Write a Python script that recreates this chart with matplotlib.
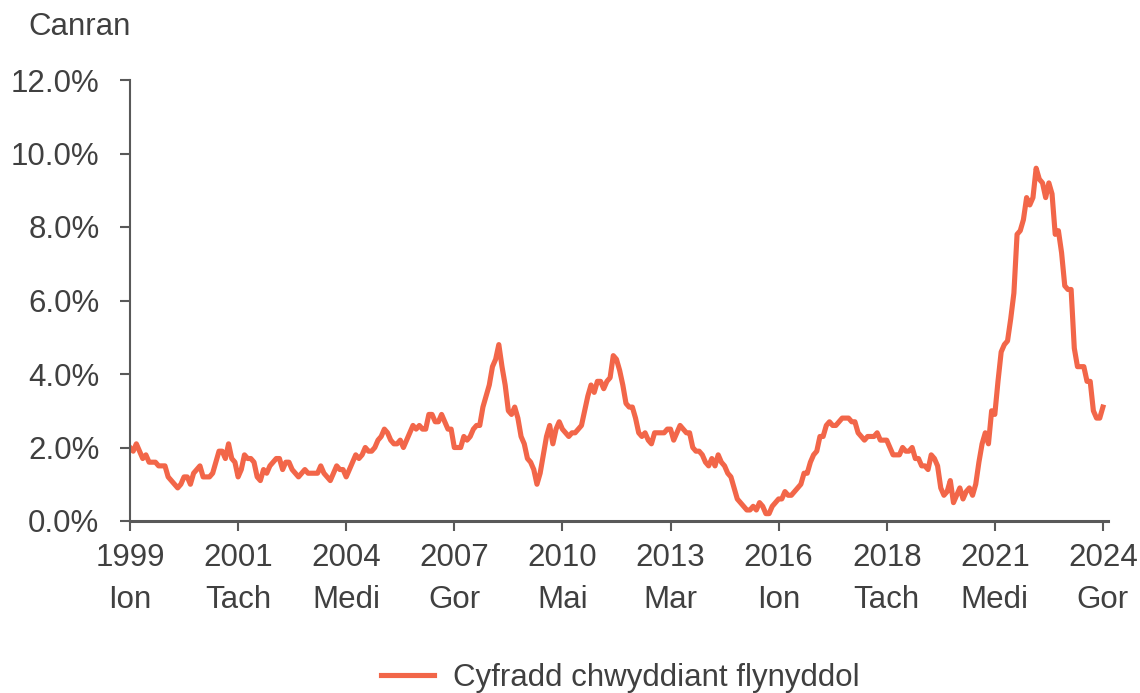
import matplotlib.pyplot as plt
import numpy as np

# cyfradd flynyddol (%), misol, Ion 1999 - Gor 2024
y1999 = [2.0, 1.9, 2.1, 1.9, 1.7, 1.8, 1.6, 1.6, 1.6, 1.5, 1.5, 1.5]
y2000 = [1.2, 1.1, 1.0, 0.9, 1.0, 1.2, 1.2, 1.0, 1.3, 1.4, 1.5, 1.2]
y2001 = [1.2, 1.2, 1.3, 1.6, 1.9, 1.9, 1.7, 2.1, 1.7, 1.6, 1.2, 1.4]
y2002 = [1.8, 1.7, 1.7, 1.6, 1.2, 1.1, 1.4, 1.3, 1.5, 1.6, 1.7, 1.7]
y2003 = [1.4, 1.6, 1.6, 1.4, 1.3, 1.2, 1.3, 1.4, 1.3, 1.3, 1.3, 1.3]
y2004 = [1.5, 1.3, 1.2, 1.1, 1.3, 1.5, 1.4, 1.4, 1.2, 1.4, 1.6, 1.8]
y2005 = [1.7, 1.8, 2.0, 1.9, 1.9, 2.0, 2.2, 2.3, 2.5, 2.4, 2.2, 2.1]
y2006 = [2.1, 2.2, 2.0, 2.2, 2.4, 2.6, 2.5, 2.6, 2.5, 2.5, 2.9, 2.9]
y2007 = [2.7, 2.7, 2.9, 2.7, 2.5, 2.5, 2.0, 2.0, 2.0, 2.3, 2.2, 2.3]
y2008 = [2.5, 2.6, 2.6, 3.1, 3.4, 3.7, 4.2, 4.4, 4.8, 4.2, 3.7, 3.0]
y2009 = [2.9, 3.1, 2.8, 2.3, 2.1, 1.7, 1.6, 1.4, 1.0, 1.3, 1.8, 2.3]
y2010 = [2.6, 2.1, 2.5, 2.7, 2.5, 2.4, 2.3, 2.4, 2.4, 2.5, 2.6, 3.0]
y2011 = [3.4, 3.7, 3.5, 3.8, 3.8, 3.6, 3.8, 3.9, 4.5, 4.4, 4.1, 3.7]
y2012 = [3.2, 3.1, 3.1, 2.8, 2.4, 2.3, 2.4, 2.2, 2.1, 2.4, 2.4, 2.4]
y2013 = [2.4, 2.5, 2.5, 2.2, 2.4, 2.6, 2.5, 2.4, 2.4, 2.0, 1.9, 1.9]
y2014 = [1.8, 1.6, 1.5, 1.7, 1.5, 1.8, 1.6, 1.5, 1.3, 1.2, 0.9, 0.6]
y2015 = [0.5, 0.4, 0.3, 0.3, 0.4, 0.3, 0.5, 0.4, 0.2, 0.2, 0.4, 0.5]
y2016 = [0.6, 0.6, 0.8, 0.7, 0.7, 0.8, 0.9, 1.0, 1.3, 1.3, 1.6, 1.8]
y2017 = [1.9, 2.3, 2.3, 2.6, 2.7, 2.6, 2.6, 2.7, 2.8, 2.8, 2.8, 2.7]
y2018 = [2.7, 2.4, 2.3, 2.2, 2.3, 2.3, 2.3, 2.4, 2.2, 2.2, 2.2, 2.0]
y2019 = [1.8, 1.8, 1.8, 2.0, 1.9, 1.9, 2.0, 1.7, 1.7, 1.5, 1.5, 1.4]
y2020 = [1.8, 1.7, 1.5, 0.9, 0.7, 0.8, 1.1, 0.5, 0.7, 0.9, 0.6, 0.8]
y2021 = [0.9, 0.7, 1.0, 1.6, 2.1, 2.4, 2.1, 3.0, 2.9, 3.8, 4.6, 4.8]
y2022 = [4.9, 5.5, 6.2, 7.8, 7.9, 8.2, 8.8, 8.6, 8.8, 9.6, 9.3, 9.2]
y2023 = [8.8, 9.2, 8.9, 7.8, 7.9, 7.3, 6.4, 6.3, 6.3, 4.7, 4.2, 4.2]
y2024 = [4.2, 3.8, 3.8, 3.0, 2.8, 2.8, 3.1]

values = np.array(y1999 + y2000 + y2001 + y2002 + y2003 + y2004 + y2005 + y2006 +
                  y2007 + y2008 + y2009 + y2010 + y2011 + y2012 + y2013 + y2014 +
                  y2015 + y2016 + y2017 + y2018 + y2019 + y2020 + y2021 + y2022 +
                  y2023 + y2024)
months = np.arange(len(values))

tick_labels = ["1999\nIon", "2001\nTach", "2004\nMedi", "2007\nGor", "2010\nMai",
               "2013\nMar", "2016\nIon", "2018\nTach", "2021\nMedi", "2024\nGor"]
yticks = [0, 2, 4, 6, 8, 10, 12]

plt.rcParams['font.family'] = ['Liberation Sans', 'DejaVu Sans']
grey = "#595959"
txt = "#404040"

fig = plt.figure(figsize=(11.4, 6.93), dpi=100)
ax = fig.add_axes([130 / 1140, 1 - 521 / 693, 978 / 1140, 441 / 693])

ax.plot(months, values, color="#F26649", lw=3.7, solid_joinstyle="round",
        label="Cyfradd chwyddiant flynyddol")

ax.set_xlim(0, 307.6)
ax.set_ylim(0, 12)
ax.set_xticks(np.arange(0, 307, 34))
ax.set_xticklabels(tick_labels, linespacing=1.5)
ax.set_yticks(yticks)
ax.set_yticklabels([f"{v:.1f}%" for v in yticks])

for s in ["top", "right"]:
    ax.spines[s].set_visible(False)
ax.spines["left"].set_color(grey)
ax.spines["left"].set_linewidth(1.5)
ax.spines["bottom"].set_color(grey)
ax.spines["bottom"].set_linewidth(2.2)

ax.tick_params(axis="y", length=7, width=1.5, color=grey, pad=15,
               labelsize=22.5, labelcolor=txt)
ax.tick_params(axis="x", length=7, width=1.5, color=grey, pad=9,
               labelsize=22.5, labelcolor=txt)

fig.text(28 / 1140, 1 - 27 / 693, "Canran", fontsize=22.5, color=txt,
         ha="left", va="center")

fig.legend(loc="center", bbox_to_anchor=(620 / 1140, 1 - 678 / 693), frameon=False,
           fontsize=22.5, labelcolor=txt, handlelength=1.7, handletextpad=0.6)

fig.savefig("out.png", dpi=100)
